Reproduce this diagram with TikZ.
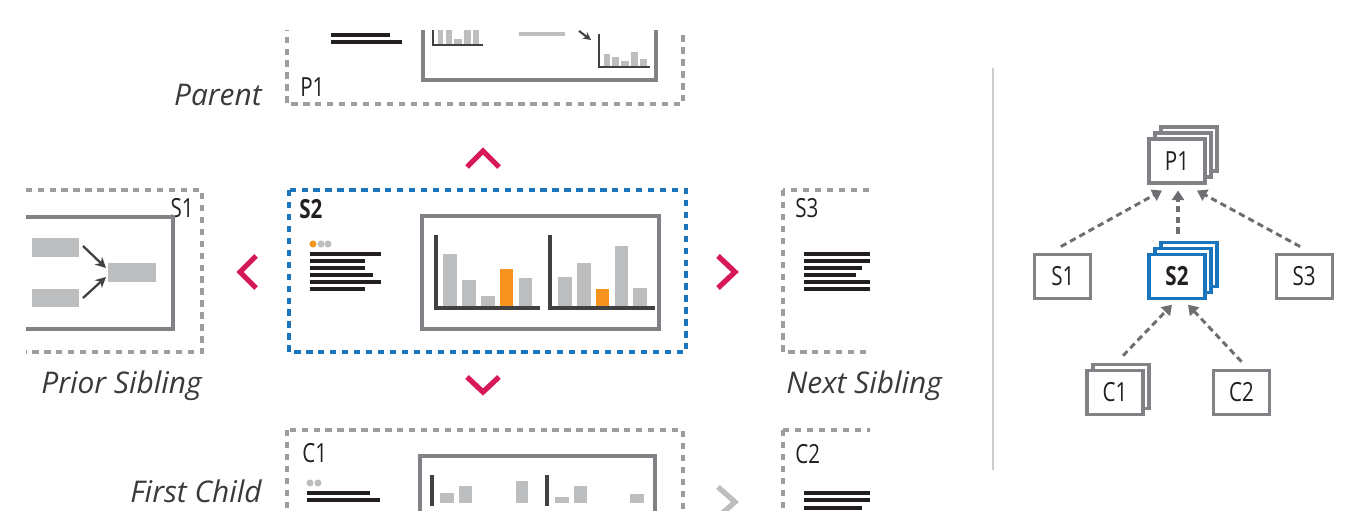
\documentclass[tikz,border=0pt]{standalone}
\usepackage{fontspec}
\setmainfont{Open Sans}
\newfontfamily\narrowfont[FakeStretch=0.78]{Open Sans}
\usepackage{xcolor}
\usetikzlibrary{arrows.meta, positioning, calc, backgrounds}

\definecolor{framegray}{HTML}{808285}
\definecolor{dashgray}{HTML}{9D9D9F}
\definecolor{bargray}{HTML}{BCBEC0}
\definecolor{barorange}{HTML}{F7941D}
\definecolor{axisdark}{HTML}{414042}
\definecolor{inkblack}{HTML}{231F20}
\definecolor{navblue}{HTML}{1B75BC}
\definecolor{navpink}{HTML}{D7195A}
\definecolor{labelgray}{HTML}{3A3A3C}
\definecolor{linkgray}{HTML}{6D6E71}

\begin{document}
\begin{tikzpicture}[x=0.02cm, y=-0.02cm,
    slide/.style={draw=dashgray, line width=2.4pt, dash pattern=on 3.6pt off 3.2pt},
    curslide/.style={slide, draw=navblue},
    frame/.style={draw=framegray, line width=2.4pt},
    axis/.style={draw=axisdark, line width=2pt},
    thinaxis/.style={draw=axisdark, line width=0.8pt},
    textline/.style={draw=inkblack, line width=1.75pt},
    chevron/.style={draw=navpink, line width=3pt},
    slidelabel/.style={inner sep=0pt, text=inkblack, font=\narrowfont\fontsize{15}{18}\selectfont},
    navlabel/.style={inner sep=0pt, text=labelgray, font=\itshape\fontsize{17}{20}\selectfont},
    treebox/.style={draw=framegray, line width=1.8pt, fill=white, minimum width=1.12cm, minimum height=0.88cm, inner sep=0pt, text=inkblack, font=\narrowfont\fontsize{15}{18}\selectfont},
    curbox/.style={treebox, draw=navblue, font=\narrowfont\bfseries\fontsize{15}{18}\selectfont},
    link/.style={draw=linkgray, line width=1.7pt, dash pattern=on 3.6pt off 2.4pt, -{Triangle[length=5.5pt, width=7pt]}}]
    \useasboundingbox (0,0) rectangle (1371,526);

    % Slide viewport
    \begin{scope}
    \clip (26,31) rectangle (870,510);
    % Parent
    \draw[slide] (287,-59) rectangle (683,104);
    \node[slidelabel, anchor=base west] (lblP1) at (300,97) {P1};
    \draw[textline] (331,35) -- (390,35);
    \draw[textline] (331,42) -- (402,42);
    \draw[frame] (423,-35) rectangle (656,80);
    \foreach \l/\r/\t in {438/443/25, 446/452/25, 454/462/39, 464/471/25, 473/479/25}
        \fill[bargray] (\l,\t) rectangle (\r,45);
    \draw[thinaxis] (433,20) -- (433,45) -- (483,45);
    \draw[bargray, line width=2.2pt] (519,34) -- (565,34);
    \draw[axisdark, line width=1.2pt, -{Stealth[length=4.5pt, width=4.5pt]}] (579,31) -- (591,40);
    \foreach \l/\r/\t in {604/610/54, 612/619/57, 621/629/61, 631/638/52, 640/647/59}
        \fill[bargray] (\l,\t) rectangle (\r,67);
    \draw[thinaxis] (599,34) -- (599,67) -- (650,67);

    % Prior sibling
    \draw[slide] (-200,190) rectangle (202,352);
    \node[slidelabel, anchor=base east] (lblS1) at (194,218) {S1};
    \draw[frame] (-100,217) rectangle (173,329);
    \fill[bargray] (32,238) rectangle (79,257);
    \fill[bargray] (32,289) rectangle (79,307);
    \fill[bargray] (108,263) rectangle (156,282);
    \draw[axisdark, line width=1.3pt, -{Stealth[length=6pt, width=6pt]}] (83,246) -- (106,268);
    \draw[axisdark, line width=1.3pt, -{Stealth[length=6pt, width=6pt]}] (83,298) -- (106,277);

    % Current slide
    \draw[curslide] (289,190) rectangle (686,352);
    \node[slidelabel, anchor=base west, font=\narrowfont\bfseries\fontsize{15}{18}\selectfont] (lblS2) at (299,219) {S2};
    \fill[barorange] (313,244) circle[radius=2pt];
    \fill[bargray] (321,244) circle[radius=2pt];
    \fill[bargray] (328,244) circle[radius=2pt];
    \foreach \y/\e in {254/381, 261/365, 268/365, 275/373, 282/381, 289/365}
        \draw[textline] (310,\y) -- (\e,\y);
    \draw[frame] (422,216) rectangle (659,329);
    \foreach \l/\r/\t in {443/457/254, 462/476/280, 481/495/296, 519/532/278,
                          558/572/277, 577/591/263, 615/628/246, 633/647/288}
        \fill[bargray] (\l,\t) rectangle (\r,307);
    \fill[barorange] (500,269) rectangle (513,307);
    \fill[barorange] (596,289) rectangle (609,307);
    \draw[axis] (436,235) -- (436,308) -- (540,308);
    \draw[axis] (550,235) -- (550,308) -- (655,308);

    % Next sibling
    \draw[slide] (783,190) rectangle (1100,352);
    \node[slidelabel, anchor=base west] (lblS3) at (795,218) {S3};
    \foreach \y/\e in {254/870, 261/870, 268/862, 275/856, 282/870, 289/870}
        \draw[textline] (804,\y) -- (\e,\y);

    % First child
    \draw[slide] (287,430) rectangle (683,600);
    \node[slidelabel, anchor=base west] (lblC1) at (302,462) {C1};
    \fill[bargray] (310,483) circle[radius=2pt];
    \fill[bargray] (318,483) circle[radius=2pt];
    \draw[textline] (307,493) -- (370,493);
    \draw[textline] (307,500) -- (380,500);
    \draw[frame] (420,456) rectangle (655,600);
    \foreach \l/\r/\t in {440/454/493, 459/472/486, 516/528/481, 555/569/497, 574/587/486, 630/644/494}
        \fill[bargray] (\l,\t) rectangle (\r,503);
    \draw[axis] (432,475) -- (432,506);
    \draw[axis] (547,475) -- (547,506);

    % Second child
    \draw[slide] (783,430) rectangle (1100,600);
    \node[slidelabel, anchor=base west] (lblC2) at (795,463) {C2};
    \foreach \y/\e in {493/870, 500/870, 508/862}
        \draw[textline] (804,\y) -- (\e,\y);

    % Navigation chevrons
    \draw[chevron] (467,167) -- (483,151) -- (499,167);
    \draw[chevron] (467,377) -- (483,392) -- (499,377);
    \draw[chevron] (256,256) -- (240,272) -- (256,288);
    \draw[chevron] (718,256) -- (735,272) -- (718,288);
    \draw[chevron, draw=bargray] (718,487) -- (735,502) -- (718,517);
    \end{scope}

    % Direction labels
    \node[navlabel, anchor=base east] (navParent) at (262,106) {Parent};
    \node[navlabel, anchor=base east] (navPrior) at (202,394) {Prior Sibling};
    \node[navlabel, anchor=base west] (navNext) at (786,394) {Next Sibling};
    \node[navlabel, anchor=base east] (navChild) at (262,502) {First Child};

    % Divider
    \draw[black!20, line width=1.4pt] (993,68) -- (993,470);

    % Tree
    \node[treebox] (P1) at (1177,161) {P1};
    \node[curbox, below=1.36cm of P1] (S2) {S2};
    \node[treebox, left=1.1cm of S2] (S1) {S1};
    \node[treebox, right=1.36cm of S2] (S3) {S3};
    \node[treebox, below=1.38cm of S2, xshift=-1.24cm] (C1) {C1};
    \node[treebox, below=1.38cm of S2, xshift=1.29cm] (C2) {C2};
    \begin{scope}[on background layer]
        \node[treebox] (P1back) at ($(P1)+(12,-12)$) {};
        \node[treebox] (P1mid) at ($(P1)+(6,-6)$) {};
        \node[curbox] (S2back) at ($(S2)+(12,-12)$) {};
        \node[curbox] (S2mid) at ($(S2)+(6,-6)$) {};
        \node[treebox] (C1back) at ($(C1)+(6,-6)$) {};
    \end{scope}

    % Links
    \draw[link] ($(S1.north)+(-2,-6)$) -- ($(P1.south)+(-15,6)$);
    \draw[link, line width=2.6pt] ($(S2.north)+(1,-19)$) -- ($(P1.south)+(1,6)$);
    \draw[link] ($(S3.north)+(-4,-6)$) -- ($(P1.south)+(20,6)$);
    \draw[link] ($(C1.north)+(8,-13)$) -- ($(S2.south)+(-5,5)$);
    \draw[link] ($(C2.north)+(0,-7)$) -- ($(S2.south)+(11,5)$);
\end{tikzpicture}
\end{document}
